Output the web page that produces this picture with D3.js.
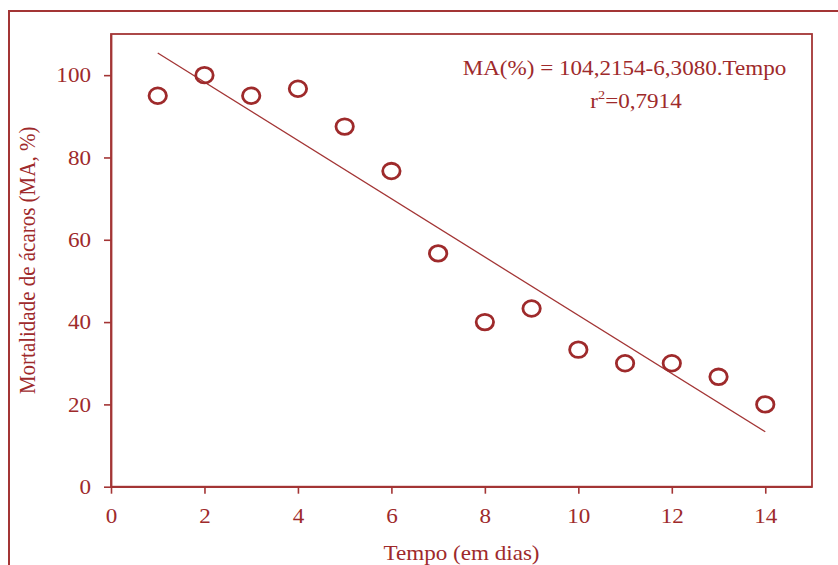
<!DOCTYPE html>
<html>
<head>
<meta charset="utf-8">
<script src="https://cdn.jsdelivr.net/npm/d3@7"></script>
<style>
  html, body { margin: 0; padding: 0; background: #ffffff; }
  svg { display: block; }
  text { font-family: "Liberation Serif", "Times New Roman", serif; fill: #9e2a2b; }
</style>
</head>
<body>
<svg id="chart" width="838" height="565"></svg>
<script>
// Mite mortality over time
const days = [1, 2, 3, 4, 5, 6, 7, 8, 9, 10, 11, 12, 13, 14];
const mortality = [95, 100, 95, 96.7, 87.5, 76.7, 56.7, 40, 43.3, 33.3, 30, 30, 26.7, 20];
const xTicks = [0, 2, 4, 6, 8, 10, 12, 14];
const yTicks = [0, 20, 40, 60, 80, 100];
const xTitle = "Tempo (em dias)";
const yTitle = "Mortalidade de ácaros (MA, %)";
const equationText = "MA(%) = 104,2154-6,3080.Tempo";
const r2Value = "=0,7914";

const color = "#9e2a2b";
const lineColor = "#a33535";
const fontSize = 21;
const stretch = 1.1; // glyphs are drawn slightly wide

const svg = d3.select("#chart");

// outer frame
svg.append("rect")
  .attr("x", 9).attr("y", 11)
  .attr("width", 845).attr("height", 575)
  .attr("fill", "none")
  .attr("stroke", lineColor)
  .attr("stroke-width", 2);

const plot = { left: 111, right: 812, top: 34, bottom: 486.7 };

const x = d3.scaleLinear().domain([0, 15]).range([plot.left, plot.right]);
const y = d3.scaleLinear().domain([0, 110]).range([plot.bottom, plot.top]);

// plot box
svg.append("rect")
  .attr("x", plot.left).attr("y", plot.top)
  .attr("width", plot.right - plot.left)
  .attr("height", plot.bottom - plot.top)
  .attr("fill", "none")
  .attr("stroke", lineColor)
  .attr("stroke-width", 1.8);

// axes
const xAxis = svg.append("g")
  .attr("transform", `translate(0,${plot.bottom})`)
  .call(d3.axisBottom(x).tickValues(xTicks).tickSize(7).tickSizeOuter(0).tickFormat(d3.format("d")));
const yAxis = svg.append("g")
  .attr("transform", `translate(${plot.left},0)`)
  .call(d3.axisLeft(y).tickValues(yTicks).tickSize(7).tickSizeOuter(0).tickFormat(d3.format("d")));

[xAxis, yAxis].forEach(g => {
  g.select(".domain").attr("stroke", lineColor).attr("stroke-width", 1.8);
  g.selectAll(".tick line").attr("stroke", lineColor).attr("stroke-width", 1.6);
  g.selectAll(".tick text")
    .attr("fill", color)
    .style("font-size", fontSize + "px")
    .style("font-family", '"Liberation Serif", "Times New Roman", serif');
});
xAxis.selectAll(".tick text")
  .attr("y", 21)
  .attr("transform", `scale(${stretch},1)`);
yAxis.selectAll(".tick text")
  .attr("x", -20 / stretch)
  .attr("transform", `scale(${stretch},1)`);

// least-squares trend line through the observations
const n = days.length;
const mx = d3.mean(days), my = d3.mean(mortality);
const sxy = d3.sum(days, (d, i) => (d - mx) * (mortality[i] - my));
const sxx = d3.sum(days, d => (d - mx) * (d - mx));
const slope = sxy / sxx;
const intercept = my - slope * mx;
const xExtent = d3.extent(days);

svg.append("path")
  .datum(xExtent)
  .attr("d", d3.line().x(d => x(d)).y(d => y(intercept + slope * d)))
  .attr("fill", "none")
  .attr("stroke", lineColor)
  .attr("stroke-width", 1.3);

// observations
svg.append("g").selectAll("ellipse")
  .data(days)
  .join("ellipse")
  .attr("cx", d => x(d))
  .attr("cy", (d, i) => y(mortality[i]))
  .attr("rx", 8.7)
  .attr("ry", 7.8)
  .attr("fill", "none")
  .attr("stroke", color)
  .attr("stroke-width", 2.8);

// axis titles
svg.append("text")
  .attr("transform", `translate(${(plot.left + plot.right) / 2},560) scale(${stretch},1)`)
  .attr("text-anchor", "middle")
  .style("font-size", fontSize + "px")
  .text(xTitle);

svg.append("text")
  .attr("transform", `translate(35,${(plot.top + plot.bottom) / 2}) scale(${stretch},1) rotate(-90)`)
  .attr("text-anchor", "middle")
  .style("font-size", fontSize + "px")
  .text(yTitle);

// regression annotation
svg.append("text")
  .attr("transform", `translate(624.5,75) scale(${stretch},1)`)
  .attr("text-anchor", "middle")
  .style("font-size", fontSize + "px")
  .text(equationText);

const r2 = svg.append("text")
  .attr("transform", `translate(636,108) scale(${stretch},1)`)
  .attr("text-anchor", "middle")
  .style("font-size", fontSize + "px");
r2.append("tspan").text("r");
r2.append("tspan").attr("dy", -9).style("font-size", "13px").text("2");
r2.append("tspan").attr("dy", 9).text(r2Value);
</script>
</body>
</html>
